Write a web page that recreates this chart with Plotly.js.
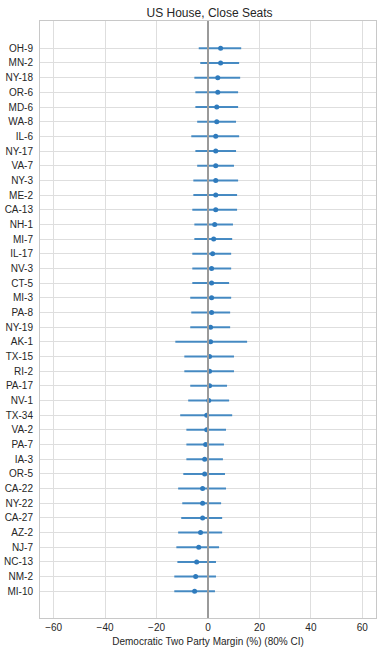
<!DOCTYPE html>
<html>
<head>
<meta charset="utf-8">
<script src="https://cdn.plot.ly/plotly-3.0.1.min.js"></script>
<style>html,body{margin:0;padding:0;background:#fff;}#chart{width:381px;height:651px;}</style>
</head>
<body>
<div id="chart"></div>
<script>
const districts = ["OH-9","MN-2","NY-18","OR-6","MD-6","WA-8","IL-6","NY-17","VA-7","NY-3",
  "ME-2","CA-13","NH-1","MI-7","IL-17","NV-3","CT-5","MI-3","PA-8","NY-19",
  "AK-1","TX-15","RI-2","PA-17","NV-1","TX-34","VA-2","PA-7","IA-3","OR-5",
  "CA-22","NY-22","CA-27","AZ-2","NJ-7","NC-13","NM-2","MI-10"];
const median = [4.9,4.9,3.8,3.8,3.4,3.4,3.0,3.0,3.0,3.0,
  3.0,3.0,2.6,2.2,1.8,1.4,1.4,1.4,1.4,1.0,
  1.0,0.6,0.6,0.6,0.3,-0.5,-0.5,-0.9,-1.3,-1.3,
  -2.1,-2.1,-2.1,-2.9,-3.6,-4.4,-4.8,-5.2];
const low = [-3.6,-3.0,-5.3,-4.9,-4.9,-4.2,-6.5,-4.9,-4.2,-5.7,
  -5.7,-6.1,-5.3,-5.3,-6.1,-6.1,-6.1,-6.9,-6.5,-6.9,
  -12.7,-9.2,-9.2,-6.9,-7.7,-10.8,-8.4,-8.4,-8.4,-9.6,
  -11.6,-10.0,-10.4,-11.6,-12.3,-11.9,-13.1,-13.1];
const high = [12.9,12.1,12.5,11.7,11.7,10.9,12.1,10.9,10.1,11.7,
  11.3,11.3,9.7,9.4,9.0,9.0,8.2,9.0,8.6,8.6,
  15.2,10.1,10.1,7.4,8.2,9.4,7.0,6.2,5.8,6.6,
  7.0,5.1,5.5,5.5,4.3,3.1,3.1,2.7];
const xTicks = [-60,-40,-20,0,20,40,60];

const errPlus = high.map((h,i)=>h-median[i]);
const errMinus = median.map((m,i)=>m-low[i]);
const n = districts.length;

const trace = {
  type: 'scatter', mode: 'markers',
  x: median, y: districts,
  marker: {color: '#2f7bbd', size: 5},
  error_x: {type: 'data', symmetric: false, array: errPlus, arrayminus: errMinus,
            color: 'rgba(52,128,190,0.9)', thickness: 2, width: 0},
  hoverinfo: 'x+y'
};

const layout = {
  width: 381, height: 651,
  margin: {l: 40, r: 5, t: 21, b: 33},
  paper_bgcolor: '#fff', plot_bgcolor: '#fff',
  font: {family: 'Liberation Sans, Arial, sans-serif', size: 10, color: '#262626'},
  title: {text: 'US House, Close Seats', x: 0.55, xanchor: 'center', y: 0.98, yanchor: 'middle',
          font: {size: 12, color: '#262626'}},
  showlegend: false,
  xaxis: {range: [-65.3, 65.3], tickvals: xTicks, ticktext: xTicks.map(v => v < 0 ? '\u2212' + Math.abs(v) : String(v)),
          showgrid: true, gridcolor: '#dedede', gridwidth: 1, zeroline: false,
          showline: true, linecolor: '#c8c8c8', linewidth: 1, mirror: true,
          ticks: '', tickfont: {size: 10, color: '#262626'},
          title: {text: 'Democratic Two Party Margin (%) (80% CI)', standoff: 5, font: {size: 10, color: '#262626'}}},
  yaxis: {type: 'category', categoryorder: 'array', categoryarray: districts,
          autorange: false, range: [n - 1 + 1.82, -1.86],
          showgrid: true, gridcolor: '#dedede', gridwidth: 1, zeroline: false,
          showline: true, linecolor: '#c8c8c8', linewidth: 1, mirror: true,
          ticks: '', ticklabelstandoff: 4, tickfont: {size: 10, color: '#262626'}},
  shapes: [{type: 'line', xref: 'x', yref: 'paper', x0: 0, x1: 0, y0: 0, y1: 1,
            line: {color: '#9a9a9a', width: 2}, layer: 'above'}]
};

Plotly.newPlot('chart', [trace], layout, {displayModeBar: false, staticPlot: true});
</script>
</body>
</html>
